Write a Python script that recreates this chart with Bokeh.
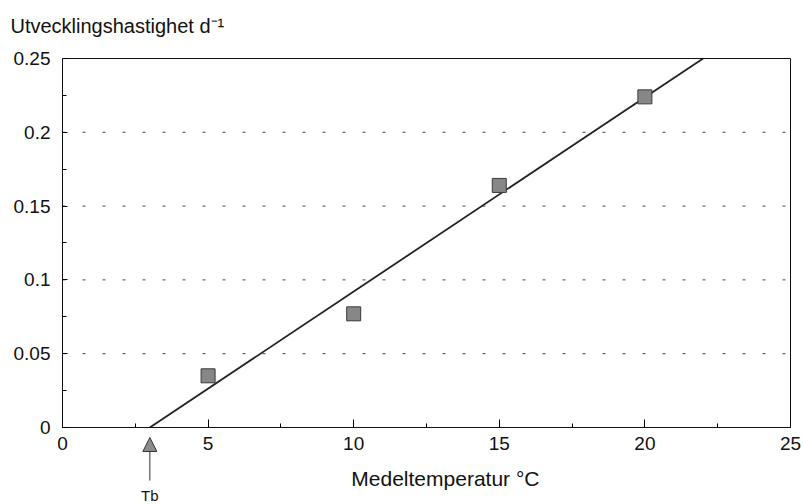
from bokeh.plotting import figure
from bokeh.models import Range1d, Arrow, NormalHead, Label, FixedTicker, LinearAxis
from bokeh.embed import file_html
from bokeh.resources import INLINE

# Data
temps = [5, 10, 15, 20]
rates = [0.035, 0.077, 0.164, 0.224]
tb = 3.0
line_x = [3.0, 22.0]
line_y = [0.0, 0.25]
x_ticks = [0, 5, 10, 15, 20, 25]
x_minor = [2.5, 7.5, 12.5, 17.5, 22.5]
y_ticks = [0, 0.05, 0.1, 0.15, 0.2, 0.25]
y_minor = [0.025, 0.075, 0.125, 0.175, 0.225]
y_tick_labels = ["0", "0.05", "0.1", "0.15", "0.2", "0.25"]
grid_levels = [0.05, 0.1, 0.15, 0.2]
x_bounds = (0, 25)
y_bounds = (0, 0.25)

FONT = "Liberation Sans"
INK = "#111111"

# The frame covers the whole canvas; axes are pinned inside it so that
# every text (including the Tb marker) can be drawn without clipping.
p = figure(width=803, height=504, output_backend="svg", toolbar_location=None,
           x_range=Range1d(-2.129, 25.447), y_range=Range1d(-0.0522, 0.2893),
           x_axis_location=None, y_axis_location=None)
p.min_border_left = 0
p.min_border_right = 0
p.min_border_top = 0
p.min_border_bottom = 0
p.outline_line_color = None
p.background_fill_color = "white"
p.border_fill_color = "white"
p.xgrid.visible = False
p.ygrid.visible = False

# dotted horizontal grid, limited to the data area
p.segment(x0=[x_bounds[0]] * len(grid_levels), y0=grid_levels,
          x1=[x_bounds[1]] * len(grid_levels), y1=grid_levels,
          line_color="#444444", line_width=1, line_dash="3 17")

# bottom axis at y = 0
xa = LinearAxis(fixed_location=0, bounds=x_bounds)
xa.ticker = FixedTicker(ticks=x_ticks, minor_ticks=x_minor)
xa.major_label_text_font = FONT
xa.major_label_text_font_size = "19px"
xa.major_label_text_color = INK
xa.major_label_standoff = 10
xa.major_tick_in = 8
xa.major_tick_out = 0
xa.minor_tick_in = 4
xa.minor_tick_out = 0
xa.axis_line_color = INK
p.add_layout(xa, "below")

# left axis at x = 0
ya = LinearAxis(fixed_location=0, bounds=y_bounds)
ya.ticker = FixedTicker(ticks=y_ticks, minor_ticks=y_minor)
ya.major_label_overrides = {t: s for t, s in zip(y_ticks, y_tick_labels)}
ya.major_label_text_font = FONT
ya.major_label_text_font_size = "19px"
ya.major_label_text_color = INK
ya.major_label_standoff = 12
ya.major_tick_in = 5
ya.major_tick_out = 0
ya.minor_tick_in = 4
ya.minor_tick_out = 0
ya.axis_line_color = INK
p.add_layout(ya, "left")

# top and right frame borders
ta = LinearAxis(fixed_location=y_bounds[1], bounds=x_bounds, ticker=FixedTicker(ticks=[]),
                major_tick_in=0, major_tick_out=0, minor_tick_in=0, minor_tick_out=0,
                axis_line_color=INK)
p.add_layout(ta, "above")
ra = LinearAxis(fixed_location=x_bounds[1], bounds=y_bounds, ticker=FixedTicker(ticks=[]),
                major_tick_in=0, major_tick_out=0, minor_tick_in=0, minor_tick_out=0,
                axis_line_color=INK)
p.add_layout(ra, "right")

# regression line and points
p.line(line_x, line_y, line_color="#222222", line_width=1.8)
p.scatter(temps, rates, marker="square", size=14, fill_color="#878787",
          line_color="#3a3a3a", line_width=1)

# titles
p.add_layout(Label(x=-1.786, y=0.2717, text="Utvecklingshastighet d⁻¹", text_align="left",
                   text_baseline="middle", text_font=FONT, text_font_size="20px", text_color=INK))
p.add_layout(Label(x=13.25, y=-0.0345, text="Medeltemperatur  °C", text_align="center",
                   text_baseline="middle", text_font=FONT, text_font_size="21px", text_color=INK))

# Tb arrow and label
p.add_layout(Arrow(end=NormalHead(size=14, fill_color="#8c8c8c", line_color="#333333", line_width=1),
                   x_start=tb, y_start=-0.036, x_end=tb, y_end=-0.0068,
                   line_color="#333333", line_width=1))
p.add_layout(Label(x=tb, y=-0.0461, text="Tb", text_align="center", text_baseline="middle",
                   text_font=FONT, text_font_size="15px", text_color=INK))

open("out.html", "w").write(file_html(p, INLINE))
